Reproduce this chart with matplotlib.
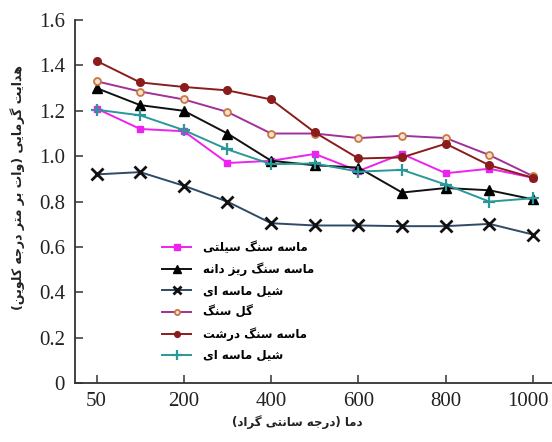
import matplotlib
matplotlib.use('Agg')
import matplotlib.pyplot as plt
import matplotlib.transforms as mtransforms

# --- data -------------------------------------------------------------
temps = ['50', '100', '200', '300', '400', '500', '600', '700', '800', '900', '1000']
tick_labels = ['50', '', '200', '', '400', '', '600', '', '800', '', '1000']

siltstone = [1.21, 1.12, 1.11, 0.97, 0.98, 1.01, 0.935, 1.01, 0.925, 0.945, 0.905]
fine_sandstone = [1.30, 1.225, 1.20, 1.10, 0.98, 0.96, 0.95, 0.84, 0.86, 0.85, 0.81]
sandy_shale_1 = [0.92, 0.93, 0.87, 0.80, 0.705, 0.695, 0.695, 0.692, 0.692, 0.702, 0.655]
mudstone = [1.33, 1.285, 1.25, 1.195, 1.10, 1.10, 1.08, 1.09, 1.08, 1.005, 0.912]
coarse_sandstone = [1.42, 1.325, 1.305, 1.29, 1.25, 1.105, 0.99, 0.995, 1.055, 0.96, 0.905]
sandy_shale_2 = [1.205, 1.18, 1.115, 1.03, 0.965, 0.968, 0.932, 0.94, 0.875, 0.80, 0.815]

labels = ['ماسه سنگ سیلتی', 'ماسه سنگ ریز دانه', 'شیل ماسه ای',
          'گل سنگ', 'ماسه سنگ درشت', 'شیل ماسه ای']
xlabel = 'دما (درجه سانتی گراد)'
ylabel = 'هدایت گرمایی (وات بر متر درجه کلوین)'


#%% Persian shaping (matplotlib has no bidi / joining support)

# char: (isolated, final, initial, medial); None for right-joining-only letters
FORMS = {
    '\u0627': ('\uFE8D', '\uFE8E', None, None),
    '\u0628': ('\uFE8F', '\uFE90', '\uFE91', '\uFE92'),
    '\u062A': ('\uFE95', '\uFE96', '\uFE97', '\uFE98'),
    '\u062C': ('\uFE9D', '\uFE9E', '\uFE9F', '\uFEA0'),
    '\u062F': ('\uFEA9', '\uFEAA', None, None),
    '\u0631': ('\uFEAD', '\uFEAE', None, None),
    '\u0632': ('\uFEAF', '\uFEB0', None, None),
    '\u0633': ('\uFEB1', '\uFEB2', '\uFEB3', '\uFEB4'),
    '\u0634': ('\uFEB5', '\uFEB6', '\uFEB7', '\uFEB8'),
    '\u0644': ('\uFEDD', '\uFEDE', '\uFEDF', '\uFEE0'),
    '\u0645': ('\uFEE1', '\uFEE2', '\uFEE3', '\uFEE4'),
    '\u0646': ('\uFEE5', '\uFEE6', '\uFEE7', '\uFEE8'),
    '\u0647': ('\uFEE9', '\uFEEA', '\uFEEB', '\uFEEC'),
    '\u0648': ('\uFEED', '\uFEEE', None, None),
    '\u06CC': ('\uFBFC', '\uFBFD', '\uFBFE', '\uFBFF'),
    '\u06A9': ('\uFB8E', '\uFB8F', '\uFB90', '\uFB91'),
    '\u06AF': ('\uFB92', '\uFB93', '\uFB94', '\uFB95'),
}
MIRROR = {'(': ')', ')': '('}


def persian(text):
    out = []
    for i, ch in enumerate(text):
        if ch not in FORMS:
            out.append(MIRROR.get(ch, ch))
            continue
        prev = text[i - 1] if i > 0 else ''
        nxt = text[i + 1] if i + 1 < len(text) else ''
        join_prev = prev in FORMS and FORMS[prev][2] is not None
        join_next = nxt in FORMS and FORMS[ch][2] is not None
        iso, fin, ini, med = FORMS[ch]
        if join_prev and join_next:
            out.append(med)
        elif join_prev:
            out.append(fin)
        elif join_next:
            out.append(ini)
        else:
            out.append(iso)
    return ''.join(reversed(out))


#%% Plot

fig = plt.figure(figsize=(5.52, 4.42), dpi=100)
ax = fig.add_axes([0.1353, 0.1328, 0.866, 0.8220])

x = list(range(len(temps)))
series = [
    (siltstone, dict(color='#ee22ee', marker='s', ms=5, mfc='#ee22ee', mec='#ee22ee')),
    (fine_sandstone, dict(color='#111111', marker='^', ms=7.5, mfc='#000000', mec='#000000')),
    (sandy_shale_1, dict(color='#2f4a66', marker='x', ms=8, mew=2, mec='#111111')),
    (mudstone, dict(color='#a0309a', marker='o', ms=5, mfc='#f3e0d0', mec='#c87840', mew=1.3)),
    (coarse_sandstone, dict(color='#8b1c1c', marker='o', ms=5.5, mfc='#8b1c1c', mec='#8b1c1c')),
    (sandy_shale_2, dict(color='#2a9898', marker='+', ms=9, mew=1.6, mec='#2a9898')),
]
for (vals, style), lab in zip(series, labels):
    ax.plot(x, vals, lw=1.4, label=persian(lab), **style)

ax.set_xlim(-0.5, 10.45)
ax.set_ylim(0, 1.6)
ax.set_xticks(x)
ax.set_xticklabels(tick_labels)
ax.set_yticks([0, 0.2, 0.4, 0.6, 0.8, 1.0, 1.2, 1.4, 1.6])
ax.set_yticklabels(['0', '0.2', '0.4', '0.6', '0.8', '1.0', '1.2', '1.4', '1.6'])

for side in ['top', 'right']:
    ax.spines[side].set_visible(False)
for side in ['left', 'bottom']:
    ax.spines[side].set_linewidth(1.3)
    ax.spines[side].set_color('#333333')

ax.tick_params(direction='in', length=6, width=1.1, color='#333333',
               labelsize=15, labelcolor='#222222')
ax.tick_params(axis='x', pad=6)
ax.tick_params(axis='y', pad=7)
# odd positions (100, 300, ...) have no tick mark
for i, t in enumerate(ax.xaxis.get_major_ticks()):
    if i % 2 == 1:
        t.tick1line.set_visible(False)
for lbl in ax.get_xticklabels() + ax.get_yticklabels():
    lbl.set_fontfamily('Liberation Serif')
# nudge "1000" left a little so it stays inside the figure
last = ax.get_xticklabels()[-1]
last.set_transform(last.get_transform() +
                   mtransforms.ScaledTranslation(-4 / 72, 0, fig.dpi_scale_trans))

leg = ax.legend(loc='upper left', bbox_to_anchor=(0.16, 0.42), frameon=False,
                numpoints=1, markerscale=0.75, handlelength=2.5, handletextpad=1.0,
                labelspacing=0.7,
                prop={'family': 'DejaVu Sans', 'weight': 'bold', 'size': 8.5})

fig.text(297 / 552, 1 - 422 / 442, persian(xlabel), ha='center', va='center',
         family='DejaVu Sans', weight='bold', size=8.5, color='#222222')
fig.text(18 / 552, 1 - 187 / 442, persian(ylabel), ha='center', va='center',
         rotation=90, family='DejaVu Sans', weight='bold', size=9, color='#222222')

fig.savefig('out.png', dpi=100)
